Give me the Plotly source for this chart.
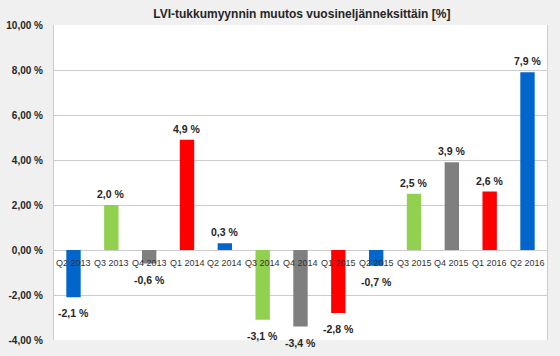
import plotly.graph_objects as go

categories = ["Q2 2013", "Q3 2013", "Q4 2013", "Q1 2014", "Q2 2014", "Q3 2014", "Q4 2014",
              "Q1 2015", "Q2 2015", "Q3 2015", "Q4 2015", "Q1 2016", "Q2 2016"]
values = [-2.1, 2.0, -0.6, 4.9, 0.3, -3.1, -3.4, -2.8, -0.7, 2.5, 3.9, 2.6, 7.9]
quarter_colors = {"Q1": "#ff0000", "Q2": "#0066cc", "Q3": "#92d050", "Q4": "#7f7f7f"}
y_ticks = [-4, -2, 0, 2, 4, 6, 8, 10]

colors = [quarter_colors[c.split()[0]] for c in categories]
labels = [f"{v:.1f}".replace(".", ",") + " %" for v in values]
y_ticktext = [f"{v:.2f}".replace(".", ",") + " %" for v in y_ticks]

FONT = "Liberation Sans"
ymin, ymax = -4, 10

fig = go.Figure()
fig.add_trace(go.Bar(
    x=categories, y=values,
    marker=dict(color=colors, line=dict(width=0)),
    width=0.38,
))

annotations = []
for c, v, t in zip(categories, values, labels):
    annotations.append(dict(
        x=c, y=v, text=f"<b>{t}</b>", showarrow=False,
        yanchor="bottom" if v >= 0 else "top", yshift=3 if v >= 0 else -8,
        font=dict(family=FONT, size=10.5, color="#262626"),
    ))
for c in categories:
    annotations.append(dict(
        x=c, y=0, text=c, showarrow=False, yanchor="top", yshift=-6,
        font=dict(family=FONT, size=9, color="#333333"),
    ))

fig.update_layout(
    width=560, height=356,
    margin=dict(l=54, r=13, t=25, b=16, autoexpand=False),
    paper_bgcolor="#f0f0f0", plot_bgcolor="#ffffff",
    showlegend=False,
    title=dict(text="<b>LVI-tukkumyynnin muutos vuosineljänneksittäin [%]</b>",
               x=0.539, xanchor="center", y=0.962, yanchor="middle",
               font=dict(family=FONT, size=12, color="#262626")),
    xaxis=dict(showticklabels=False, showline=False, showgrid=False, ticks=""),
    yaxis=dict(range=[ymin, ymax], tickvals=y_ticks, ticktext=y_ticktext, automargin=False,
               showgrid=True, gridcolor="#cccccc", gridwidth=1,
               zeroline=True, zerolinecolor="#cccccc", zerolinewidth=1,
               showline=True, linecolor="#cccccc", mirror=True,
               ticks="", ticklabelstandoff=8,
               tickfont=dict(family=FONT, size=10, color="#262626", weight="bold")),
    annotations=annotations,
    bargap=0.62,
)
fig.write_html("out.html", config={"displayModeBar": False},
               post_script="document.body.style.margin='0';document.body.style.padding='0';")
